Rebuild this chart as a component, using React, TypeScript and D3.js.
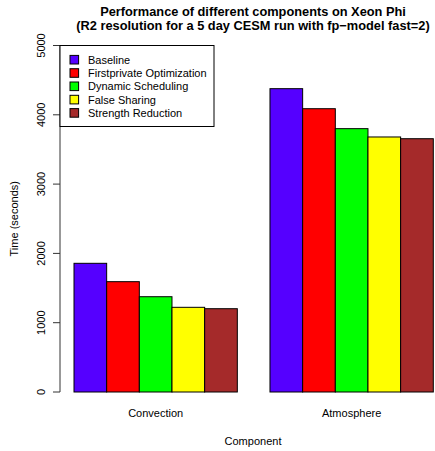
import React from 'react';
import * as d3 from 'd3';

const components = ['Convection', 'Atmosphere'];
const series = ['Baseline', 'Firstprivate Optimization', 'Dynamic Scheduling', 'False Sharing', 'Strength Reduction'];
const colors = ['#5500FF', '#FF0000', '#00FF00', '#FFFF00', '#A52A2A'];
const convection = [1857, 1592, 1375, 1222, 1202];
const atmosphere = [4377, 4088, 3800, 3680, 3655];
const yTicks = [0, 1000, 2000, 3000, 4000, 5000];

const W = 435;
const H = 451;
const FONT = '"Liberation Sans", Arial, Helvetica, sans-serif';

export default function App() {
  const values = [convection, atmosphere];
  const y = d3.scaleLinear().domain([0, 5000]).range([392, 45.5]);
  const x0 = d3.scaleBand().domain(components).range([74, 433.3]).paddingInner(1 / 6).paddingOuter(0);
  const x1 = d3.scaleBand().domain(series).range([0, x0.bandwidth()]).padding(0);
  const axisX = 60;
  const midX = 253;

  return (
    <svg width={W} height={H} style={{ display: 'block', position: 'absolute', left: 0, top: 0 }} fontFamily={FONT}>
      <rect width={W} height={H} fill="#fff" />
      {/* title */}
      <text x={midX} y={16} textAnchor="middle" fontSize={12.8} fontWeight="bold">Performance of different components on Xeon Phi</text>
      <text x={midX} y={30} textAnchor="middle" fontSize={12.8} fontWeight="bold">(R2 resolution for a 5 day CESM run with fp−model fast=2)</text>

      {/* bars */}
      {components.map((c, gi) => (
        <g key={c} transform={`translate(${x0(c)},0)`}>
          {series.map((s, i) => (
            <rect key={s} x={x1(s)} y={y(values[gi][i])} width={x1.bandwidth()} height={y(0) - y(values[gi][i])}
              fill={colors[i]} stroke="#000" strokeWidth={1} />
          ))}
          <text x={x0.bandwidth() / 2} y={417} textAnchor="middle" fontSize={11}>{c}</text>
        </g>
      ))}

      {/* y axis */}
      <line x1={axisX} x2={axisX} y1={y(0)} y2={y(5000)} stroke="#333" />
      {yTicks.map(t => (
        <g key={t}>
          <line x1={axisX - 7} x2={axisX} y1={y(t)} y2={y(t)} stroke="#333" />
          <text transform={`translate(${axisX - 15},${y(t)}) rotate(-90)`} textAnchor="middle" fontSize={11}>{t}</text>
        </g>
      ))}
      <text transform={`translate(17.5,${(y(0) + y(5000)) / 2}) rotate(-90)`} textAnchor="middle" fontSize={11}>Time (seconds)</text>
      <text x={midX} y={445} textAnchor="middle" fontSize={11}>Component</text>

      {/* legend */}
      <rect x={axisX} y={45.5} width={154} height={81} fill="#fff" stroke="#000" />
      {series.map((s, i) => (
        <g key={s} transform={`translate(0,${59.7 + i * 13.3})`}>
          <rect x={70} y={-4.3} width={8.6} height={8.6} fill={colors[i]} stroke="#000" />
          <text x={88} y={4} fontSize={11}>{s}</text>
        </g>
      ))}
    </svg>
  );
}
